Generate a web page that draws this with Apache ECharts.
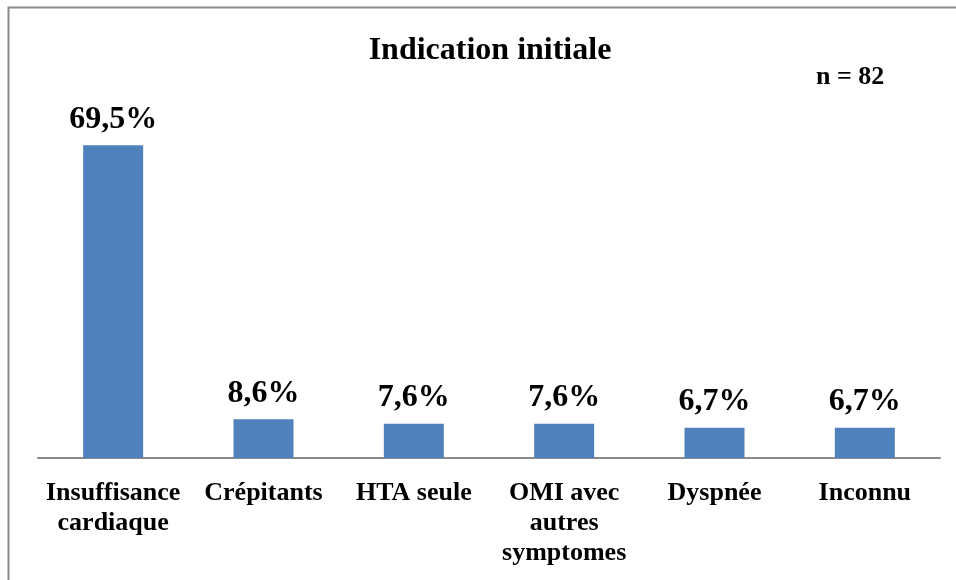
<!DOCTYPE html>
<html><head><meta charset="utf-8">
<script src="https://cdn.jsdelivr.net/npm/echarts@6/dist/echarts.min.js"></script>
<style>html,body{margin:0;padding:0;background:#fff}#c{width:956px;height:580px}</style>
</head><body><div id="c"></div>
<script>
const categories = ['Insuffisance\ncardiaque', 'Crépitants', 'HTA seule', 'OMI avec\nautres\nsymptomes', 'Dyspnée', 'Inconnu'];
const values = [69.5, 8.6, 7.6, 7.6, 6.7, 6.7];
const titleText = 'Indication initiale';
const noteText = 'n = 82';
const serif = '"Liberation Serif", "Times New Roman", serif';
const chart = echarts.init(document.getElementById('c'), null, {renderer: 'canvas'});
chart.setOption({
  backgroundColor: '#fff',
  animation: false,
  title: {text: titleText, left: 485, top: 30, textAlign: 'center',
    textStyle: {fontFamily: serif, fontWeight: 'bold', fontSize: 32, color: '#000'}},
  graphic: [
    {type: 'rect', shape: {x: 8.5, y: 7.5, width: 1200, height: 1200}, style: {fill: 'none', stroke: '#8a8a8a', lineWidth: 2}, z: -1},
    {type: 'text', left: 816, top: 64, style: {text: noteText, font: 'bold 26px ' + serif, fill: '#000'}}
  ],
  grid: {left: 38, right: 16, top: 98, bottom: 122},
  xAxis: {type: 'category', data: categories,
    axisLine: {lineStyle: {color: '#8a8a8a', width: 2}},
    axisTick: {show: false},
    axisLabel: {interval: 0, margin: 20, fontFamily: serif, fontWeight: 'bold', fontSize: 26, lineHeight: 30, color: '#000'}},
  yAxis: {type: 'value', min: 0, max: 80, show: false, splitLine: {show: false}},
  series: [{type: 'bar', data: values, barWidth: 60,
    itemStyle: {color: '#4F81BD'},
    label: {show: true, position: 'top', distance: 10,
      formatter: p => String(p.value).replace('.', ',') + '%',
      fontFamily: serif, fontWeight: 'bold', fontSize: 32, color: '#000'}}]
});
</script></body></html>
